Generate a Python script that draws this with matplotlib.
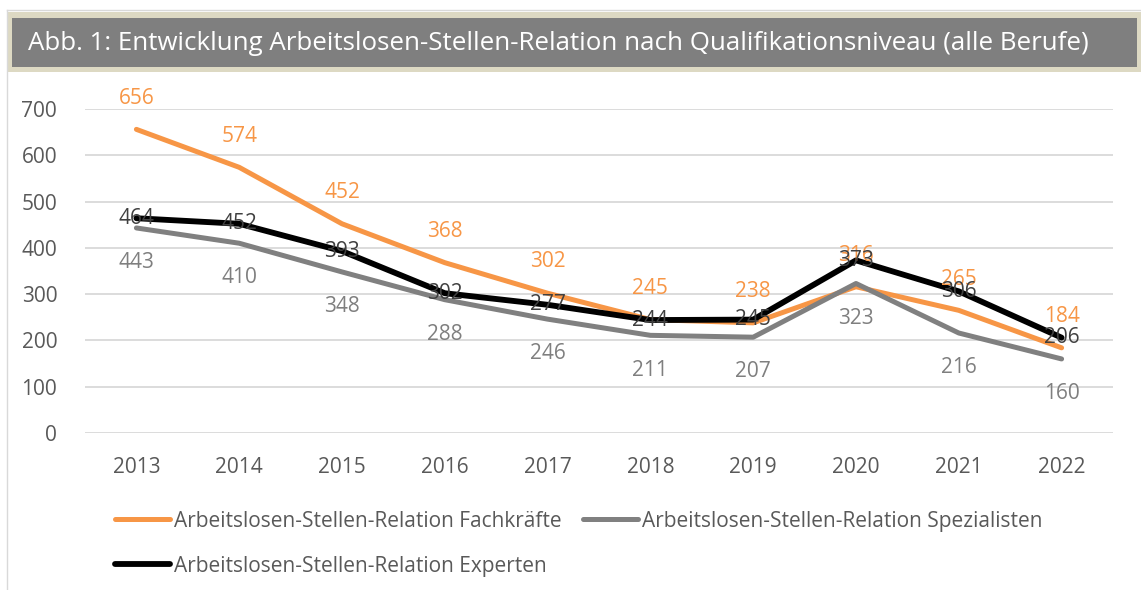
import matplotlib.pyplot as plt
from matplotlib.patches import Rectangle
from matplotlib.lines import Line2D

plt.rcParams['font.family'] = ['Open Sans', 'DejaVu Sans']

# Daten
jahre = ['2013', '2014', '2015', '2016', '2017', '2018', '2019', '2020', '2021', '2022']
fachkraefte = [656, 574, 452, 368, 302, 245, 238, 316, 265, 184]
spezialisten = [443, 410, 348, 288, 246, 211, 207, 323, 216, 160]
experten = [464, 452, 393, 302, 277, 244, 245, 373, 306, 206]

titel = 'Abb. 1: Entwicklung Arbeitslosen-Stellen-Relation nach Qualifikationsniveau (alle Berufe)'
namen = ['Arbeitslosen-Stellen-Relation Fachkräfte',
         'Arbeitslosen-Stellen-Relation Spezialisten',
         'Arbeitslosen-Stellen-Relation Experten']

ORANGE = '#F79646'
GRAU = '#808080'
SCHWARZ = '#000000'

W, H = 1141, 590
fig = plt.figure(figsize=(W / 100, H / 100), dpi=100)

# Rahmen und Titelleiste (Pixelkoordinaten -> Figure-Koordinaten)
def fx(px):
    return px / W

def fy(py):
    return 1 - py / H

fig.add_artist(Line2D([fx(7), fx(7)], [fy(10), fy(590)], color='#d9d9d9', lw=1))
fig.add_artist(Line2D([fx(7), fx(1141)], [fy(10), fy(10)], color='#d9d9d9', lw=1))
fig.add_artist(Rectangle((fx(8), fy(72)), fx(1141 - 8), (72 - 12) / H,
                         facecolor='#ddd9c3', edgecolor='none'))
fig.add_artist(Rectangle((fx(12), fy(67)), fx(1137 - 12), (67 - 18) / H,
                         facecolor='#7f7f7f', edgecolor='none'))
fig.text(fx(28), fy(44), titel, color='white', fontsize=18.6, va='center', ha='left')

ax = fig.add_axes([85 / W, 157 / H, (1113 - 85) / W, (433 - 109) / H])
x = list(range(len(jahre)))

l1, = ax.plot(x, fachkraefte, color=ORANGE, lw=3.6, solid_capstyle='round', zorder=3)
l2, = ax.plot(x, spezialisten, color=GRAU, lw=3.6, solid_capstyle='round', zorder=4)
l3, = ax.plot(x, experten, color=SCHWARZ, lw=4.2, solid_capstyle='round', zorder=5)

fs = 15
for i in x:
    ax.annotate(str(fachkraefte[i]), (i, fachkraefte[i]), xytext=(0, 22.5), textcoords='offset points',
                ha='center', va='center', color=ORANGE, fontsize=fs, annotation_clip=False, zorder=6)
    ax.annotate(str(spezialisten[i]), (i, spezialisten[i]), xytext=(0, -25), textcoords='offset points',
                ha='center', va='center', color='#7f7f7f', fontsize=fs, annotation_clip=False, zorder=6)
    ax.annotate(str(experten[i]), (i, experten[i]), xytext=(0, 0), textcoords='offset points',
                ha='center', va='center', color='#404040', fontsize=fs, annotation_clip=False, zorder=6)

ax.set_xlim(-0.5, len(jahre) - 0.5)
ax.set_ylim(0, 700)
ax.set_yticks(range(0, 701, 100))
ax.set_xticks(x)
ax.set_xticklabels(jahre)
ax.tick_params(axis='both', length=0, labelsize=fs, labelcolor='#595959')
ax.tick_params(axis='y', pad=20)
ax.tick_params(axis='x', pad=17)
ax.grid(axis='y', color='#d9d9d9', lw=1.3)
ax.set_axisbelow(True)
for s in ax.spines.values():
    s.set_visible(False)

leg = fig.legend([l1, l3, l2], [namen[0], namen[2], namen[1]], ncol=2,
                 loc='upper left', bbox_to_anchor=(96 / W, fy(492)),
                 frameon=False, fontsize=fs, labelcolor='#595959',
                 handlelength=2.65, handletextpad=0.2, columnspacing=1.0,
                 labelspacing=1.15)

fig.savefig('out.png', dpi=100)
